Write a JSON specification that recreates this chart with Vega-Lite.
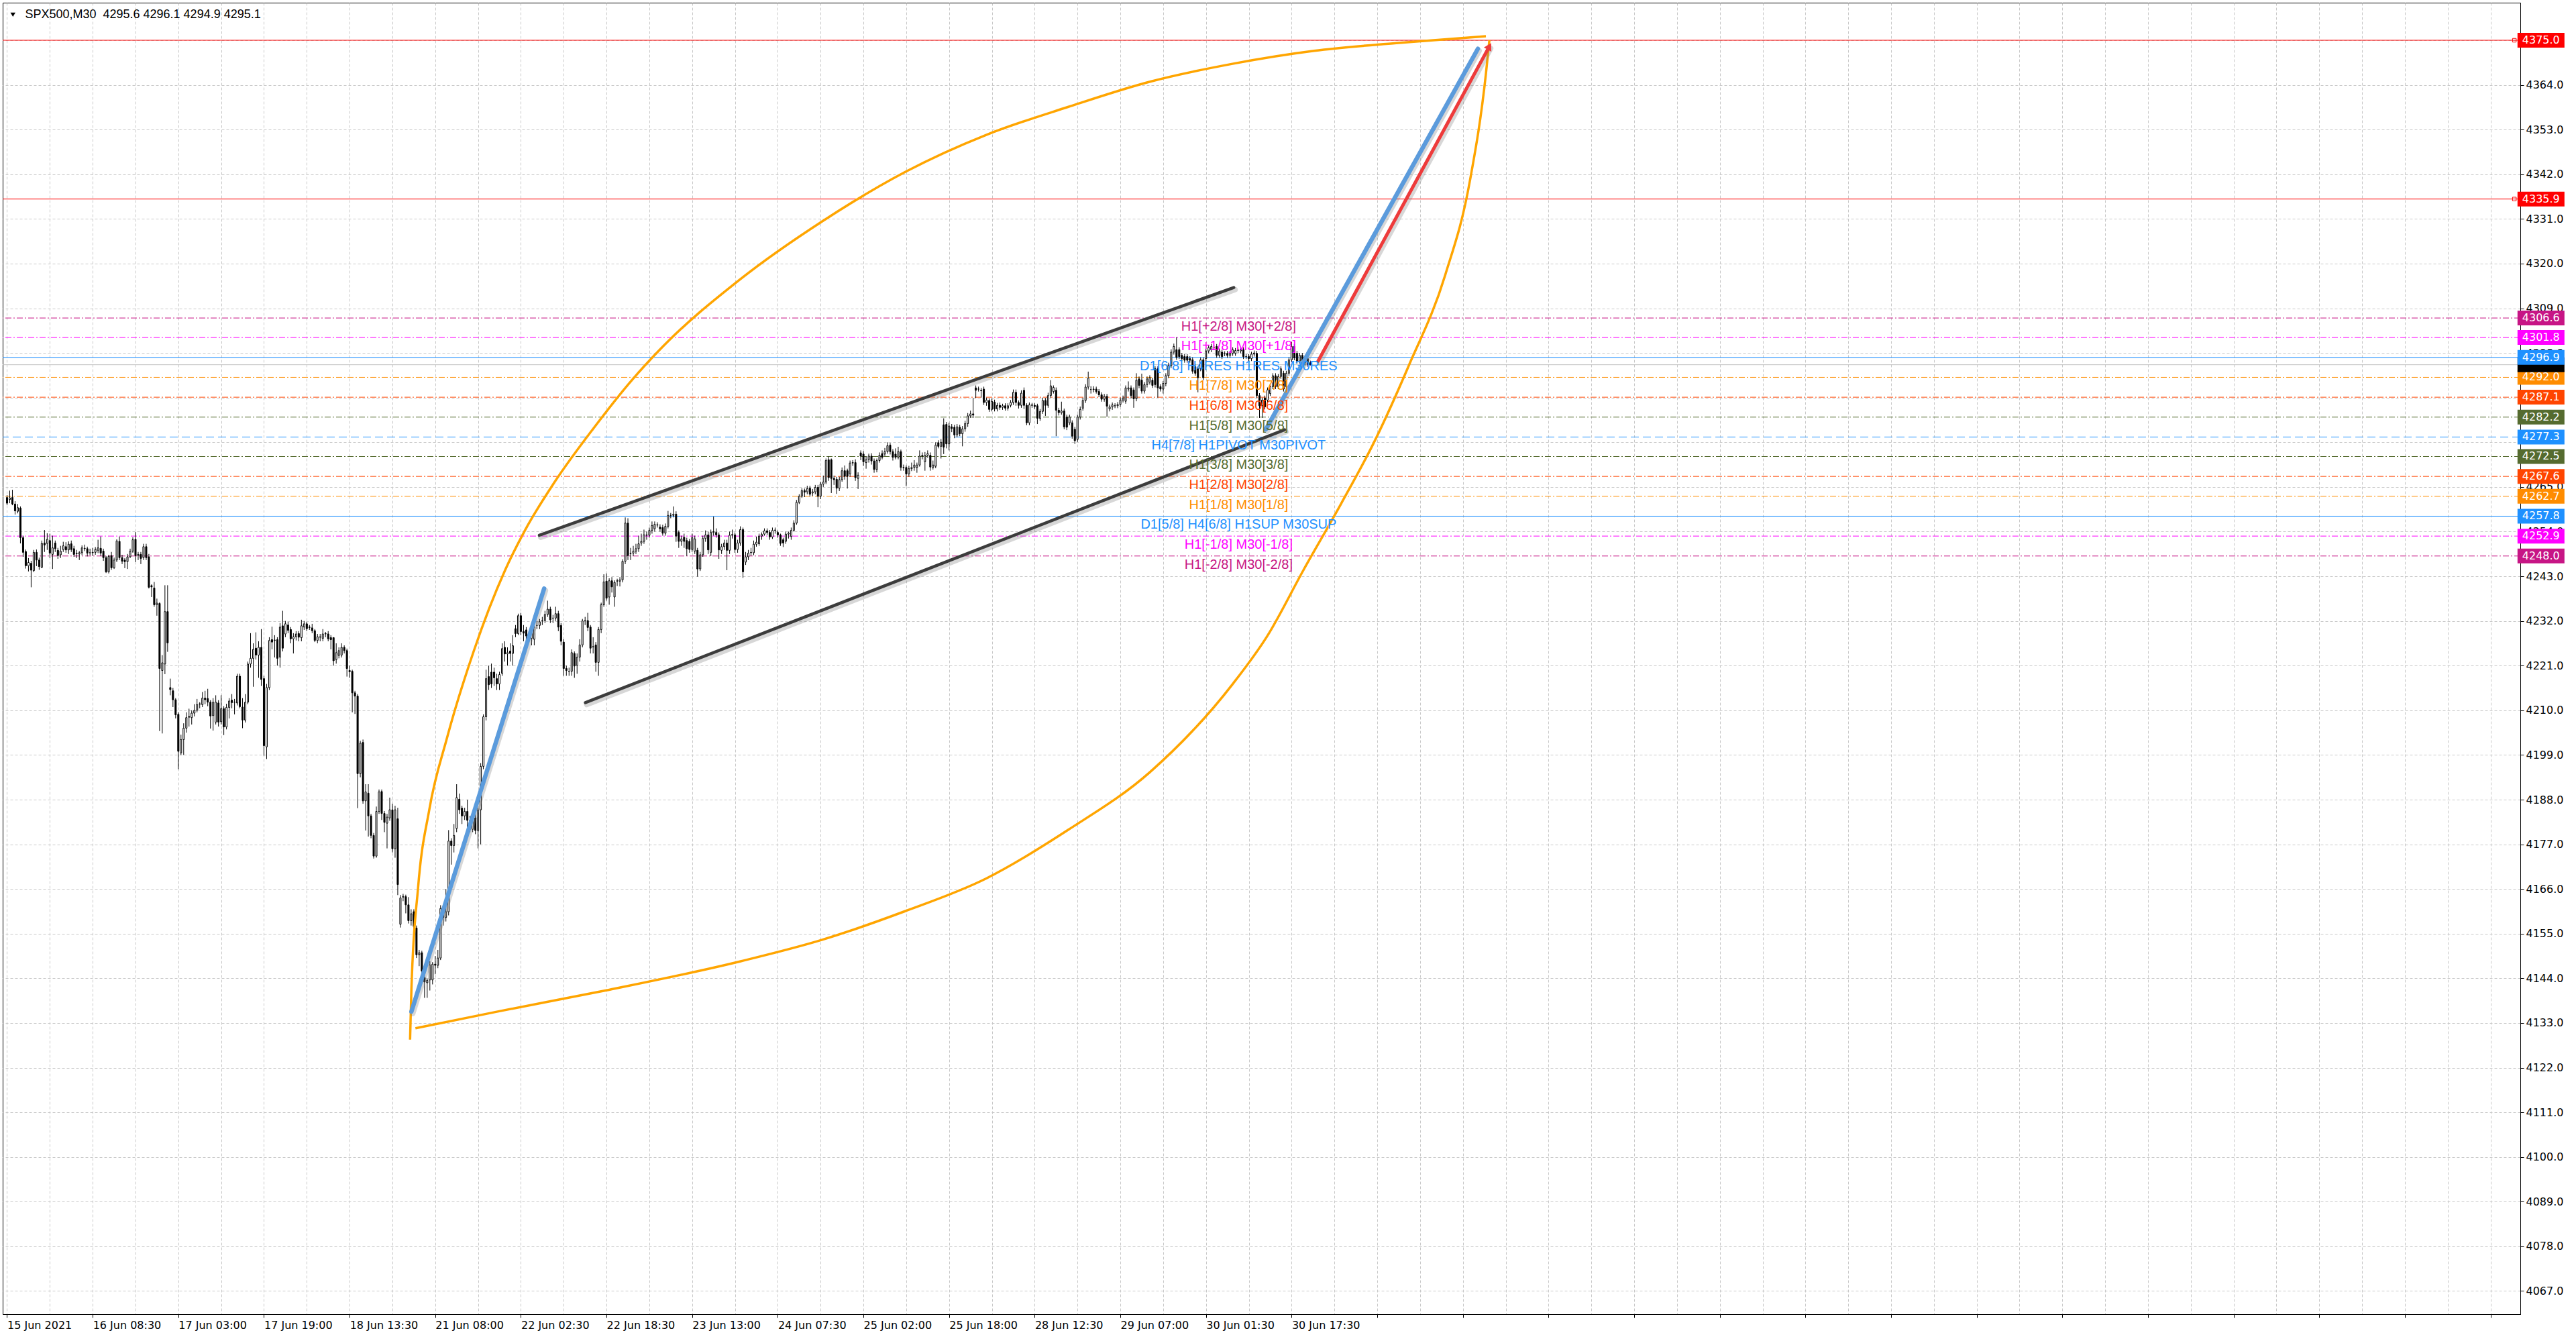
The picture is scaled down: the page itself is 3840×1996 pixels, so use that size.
{
"$schema":"https://vega.github.io/schema/vega-lite/v6.json",
"width":3753,"height":1955,
"autosize":{"type":"none"},
"padding":{"left":4,"top":4,"right":83,"bottom":37},
"background":"white",
"config":{"view":{"stroke":"black","strokeWidth":1},"axis":{"labelFont":"DejaVu Sans","labelFontSize":16,"labelColor":"#000000","domainColor":"#000000","gridColor":"#C8C8C8","gridDash":[4,3],"gridWidth":1}},
"resolve":{"axis":{"x":"independent","y":"independent"}},
"datasets":{
"cd":[
{"i":0,"o":4262.4,"h":4263,"l":4260.5,"c":4261},
{"i":1,"o":4261.9,"h":4264.1,"l":4261,"c":4262.3},
{"i":2,"o":4262.4,"h":4264.3,"l":4260.5,"c":4260.8},
{"i":3,"o":4260.8,"h":4261.5,"l":4258.2,"c":4259.1},
{"i":4,"o":4259,"h":4260.8,"l":4258.5,"c":4259.9},
{"i":5,"o":4259.8,"h":4260.2,"l":4251.1,"c":4252.5},
{"i":6,"o":4252.5,"h":4253,"l":4247.8,"c":4248.9},
{"i":7,"o":4249.1,"h":4249.6,"l":4244.9,"c":4245.6},
{"i":8,"o":4245.6,"h":4247.5,"l":4244.2,"c":4246.4},
{"i":9,"o":4246.2,"h":4246.8,"l":4240.3,"c":4244.5},
{"i":10,"o":4244.4,"h":4249.5,"l":4244,"c":4248.9},
{"i":11,"o":4248.9,"h":4249.6,"l":4245.5,"c":4247},
{"i":12,"o":4247,"h":4247.6,"l":4244.6,"c":4245.4},
{"i":13,"o":4245.2,"h":4251.8,"l":4245,"c":4251.1},
{"i":14,"o":4251.2,"h":4254.4,"l":4249,"c":4250.7},
{"i":15,"o":4251.1,"h":4253.6,"l":4249.5,"c":4252.1},
{"i":16,"o":4251.8,"h":4253.5,"l":4247.5,"c":4248.7},
{"i":17,"o":4248.4,"h":4253,"l":4244.8,"c":4250},
{"i":18,"o":4251.2,"h":4251.8,"l":4249,"c":4249.8},
{"i":19,"o":4249.4,"h":4250,"l":4247.3,"c":4248.1},
{"i":20,"o":4248.3,"h":4250.5,"l":4247.5,"c":4249.2},
{"i":21,"o":4249.6,"h":4251.5,"l":4249,"c":4250.5},
{"i":22,"o":4250.3,"h":4251.4,"l":4248.8,"c":4249.5},
{"i":23,"o":4249.5,"h":4251.6,"l":4248.5,"c":4250.9},
{"i":24,"o":4251,"h":4251.8,"l":4249,"c":4249.6},
{"i":25,"o":4249.8,"h":4250.5,"l":4247.8,"c":4248.4},
{"i":26,"o":4248.7,"h":4249.5,"l":4247.5,"c":4248.6},
{"i":27,"o":4248.5,"h":4249.2,"l":4247,"c":4248.8},
{"i":28,"o":4248.8,"h":4250.6,"l":4248.2,"c":4250},
{"i":29,"o":4249.9,"h":4250.8,"l":4249.2,"c":4249.8},
{"i":30,"o":4249.8,"h":4250.3,"l":4247.9,"c":4248.7},
{"i":31,"o":4248.8,"h":4249.8,"l":4248.2,"c":4248.8},
{"i":32,"o":4248.9,"h":4250,"l":4248,"c":4248.8},
{"i":33,"o":4248.9,"h":4250.2,"l":4248.3,"c":4249.6},
{"i":34,"o":4249.4,"h":4252,"l":4248.7,"c":4250},
{"i":35,"o":4249.9,"h":4252.8,"l":4248,"c":4248.7},
{"i":36,"o":4249.2,"h":4249.8,"l":4246.8,"c":4247.6},
{"i":37,"o":4247.6,"h":4248,"l":4243.8,"c":4244.1},
{"i":38,"o":4244.1,"h":4248.3,"l":4243.7,"c":4247.9},
{"i":39,"o":4248.1,"h":4249,"l":4244.6,"c":4245.1},
{"i":40,"o":4245.1,"h":4247.6,"l":4244.8,"c":4247},
{"i":41,"o":4247,"h":4252.1,"l":4246.5,"c":4251.7},
{"i":42,"o":4251.6,"h":4252.8,"l":4247,"c":4247.6},
{"i":43,"o":4247.6,"h":4248.3,"l":4246,"c":4246.7},
{"i":44,"o":4247,"h":4247.5,"l":4245,"c":4246.6},
{"i":45,"o":4246.6,"h":4248.5,"l":4244.8,"c":4247.8},
{"i":46,"o":4247.8,"h":4249.8,"l":4247.5,"c":4249.2},
{"i":47,"o":4249.2,"h":4252.6,"l":4248.8,"c":4252},
{"i":48,"o":4252.1,"h":4253.9,"l":4246.5,"c":4248.1},
{"i":49,"o":4248.1,"h":4249,"l":4247,"c":4248.4},
{"i":50,"o":4248.4,"h":4249,"l":4246,"c":4247.4},
{"i":51,"o":4247.6,"h":4251,"l":4247,"c":4250.3},
{"i":52,"o":4250.3,"h":4251,"l":4247,"c":4247.6},
{"i":53,"o":4247.8,"h":4248.5,"l":4240,"c":4240.3},
{"i":54,"o":4240.7,"h":4241,"l":4237.9,"c":4240.4},
{"i":55,"o":4240.1,"h":4241.6,"l":4235.5,"c":4236},
{"i":56,"o":4236,"h":4237.5,"l":4233.3,"c":4236.4},
{"i":57,"o":4236.3,"h":4236.6,"l":4204.9,"c":4220.3},
{"i":58,"o":4219.8,"h":4223.6,"l":4204.3,"c":4221.7},
{"i":59,"o":4221.4,"h":4240.8,"l":4218.9,"c":4234.3},
{"i":60,"o":4234.3,"h":4240.8,"l":4224.4,"c":4226.6},
{"i":61,"o":4215.6,"h":4217.8,"l":4213.7,"c":4215.1},
{"i":62,"o":4214.8,"h":4215.5,"l":4210.8,"c":4212.6},
{"i":63,"o":4212.6,"h":4213,"l":4208,"c":4208.9},
{"i":64,"o":4209,"h":4209.5,"l":4195.5,"c":4199.9},
{"i":65,"o":4199.5,"h":4204,"l":4199,"c":4202.8},
{"i":66,"o":4202.8,"h":4206.8,"l":4199,"c":4205.6},
{"i":67,"o":4205.6,"h":4209.5,"l":4204.5,"c":4208.2},
{"i":68,"o":4208.3,"h":4210.4,"l":4206,"c":4208.5},
{"i":69,"o":4208.2,"h":4210,"l":4206.5,"c":4209.3},
{"i":70,"o":4209.3,"h":4211.5,"l":4208.5,"c":4210},
{"i":71,"o":4210,"h":4212.8,"l":4209.5,"c":4211.4},
{"i":72,"o":4211.5,"h":4212,"l":4210.5,"c":4211.6},
{"i":73,"o":4211.4,"h":4214.5,"l":4210.8,"c":4213},
{"i":74,"o":4213,"h":4214.8,"l":4211.5,"c":4212.6},
{"i":75,"o":4212.9,"h":4215.3,"l":4211,"c":4212},
{"i":76,"o":4212,"h":4212.5,"l":4205.5,"c":4208.6},
{"i":77,"o":4208.7,"h":4213,"l":4205,"c":4212},
{"i":78,"o":4207.1,"h":4213.7,"l":4206.5,"c":4212},
{"i":79,"o":4211.8,"h":4212.5,"l":4206,"c":4207.1},
{"i":80,"o":4207.2,"h":4213.7,"l":4206.5,"c":4210.4},
{"i":81,"o":4210.4,"h":4211,"l":4203.9,"c":4205.9},
{"i":82,"o":4205.9,"h":4211.6,"l":4205.3,"c":4210.7},
{"i":83,"o":4210.7,"h":4213,"l":4208,"c":4212.3},
{"i":84,"o":4212.5,"h":4214,"l":4210.5,"c":4211.9},
{"i":85,"o":4212,"h":4212.8,"l":4209,"c":4212},
{"i":86,"o":4211.8,"h":4219,"l":4211.2,"c":4218.4},
{"i":87,"o":4218.4,"h":4219,"l":4210.5,"c":4210.9},
{"i":88,"o":4210.8,"h":4213,"l":4205.6,"c":4207.6},
{"i":89,"o":4207.6,"h":4214,"l":4207,"c":4212},
{"i":90,"o":4212,"h":4222,"l":4211.5,"c":4221.4},
{"i":91,"o":4221.4,"h":4229,"l":4220.5,"c":4222.8},
{"i":92,"o":4222.8,"h":4226.5,"l":4215.8,"c":4225},
{"i":93,"o":4225.3,"h":4229.2,"l":4222.5,"c":4223.6},
{"i":94,"o":4223.6,"h":4227,"l":4218,"c":4225.5},
{"i":95,"o":4225.5,"h":4230,"l":4216,"c":4217.6},
{"i":96,"o":4217.8,"h":4218.5,"l":4198.8,"c":4201.3},
{"i":97,"o":4201,"h":4216.5,"l":4198,"c":4215.6},
{"i":98,"o":4215.6,"h":4228,"l":4215,"c":4227.2},
{"i":99,"o":4227.4,"h":4230.6,"l":4225,"c":4226.8},
{"i":100,"o":4227.2,"h":4228.5,"l":4223,"c":4227.3},
{"i":101,"o":4227.4,"h":4228,"l":4221,"c":4222.8},
{"i":102,"o":4223.1,"h":4231.5,"l":4220.5,"c":4230.5},
{"i":103,"o":4230.8,"h":4234.5,"l":4224.5,"c":4225.3},
{"i":104,"o":4228.8,"h":4232,"l":4228,"c":4231.3},
{"i":105,"o":4231,"h":4231.8,"l":4229,"c":4229.7},
{"i":106,"o":4229.9,"h":4230.5,"l":4226.5,"c":4227.6},
{"i":107,"o":4227.6,"h":4229,"l":4224,"c":4228.1},
{"i":108,"o":4228.1,"h":4229.5,"l":4227.2,"c":4228.8},
{"i":109,"o":4228.9,"h":4229.5,"l":4227,"c":4228},
{"i":110,"o":4227.9,"h":4232.3,"l":4227,"c":4230.8},
{"i":111,"o":4230.5,"h":4232,"l":4229.8,"c":4231.3},
{"i":112,"o":4231.3,"h":4231.8,"l":4229.5,"c":4230.1},
{"i":113,"o":4230.5,"h":4231,"l":4229.8,"c":4230.4},
{"i":114,"o":4230.3,"h":4231.3,"l":4229,"c":4229.6},
{"i":115,"o":4229.6,"h":4230,"l":4226.8,"c":4227.2},
{"i":116,"o":4227.2,"h":4228.8,"l":4226.5,"c":4228.1},
{"i":117,"o":4228,"h":4228.8,"l":4227,"c":4228.1},
{"i":118,"o":4227.7,"h":4230,"l":4227,"c":4228.8},
{"i":119,"o":4228.8,"h":4229.3,"l":4228,"c":4228.9},
{"i":120,"o":4228.8,"h":4229.5,"l":4227,"c":4227.6},
{"i":121,"o":4227.9,"h":4228.5,"l":4225,"c":4227.4},
{"i":122,"o":4227.9,"h":4228,"l":4221,"c":4222.2},
{"i":123,"o":4222.5,"h":4226.5,"l":4221.5,"c":4224.2},
{"i":124,"o":4223.5,"h":4225.5,"l":4222.8,"c":4224.7},
{"i":125,"o":4223.6,"h":4226.5,"l":4223,"c":4225.5},
{"i":126,"o":4225.5,"h":4226,"l":4224,"c":4224.7},
{"i":127,"o":4224.7,"h":4225.2,"l":4218.3,"c":4220.3},
{"i":128,"o":4219.8,"h":4221,"l":4218,"c":4219.5},
{"i":129,"o":4219.6,"h":4220,"l":4209.5,"c":4214.3},
{"i":130,"o":4214.3,"h":4214.8,"l":4209.1,"c":4213.5},
{"i":131,"o":4213.5,"h":4214,"l":4185.9,"c":4194.4},
{"i":132,"o":4194.4,"h":4202.5,"l":4193.5,"c":4201.9},
{"i":133,"o":4202.1,"h":4202.8,"l":4187,"c":4187.7},
{"i":134,"o":4187.7,"h":4191.8,"l":4180.4,"c":4189.9},
{"i":135,"o":4189.6,"h":4191.8,"l":4178.9,"c":4184},
{"i":136,"o":4184,"h":4184.5,"l":4178.5,"c":4179.2},
{"i":137,"o":4179.2,"h":4179.8,"l":4173.5,"c":4174.1},
{"i":138,"o":4174.1,"h":4186.3,"l":4173.7,"c":4185.1},
{"i":139,"o":4185.1,"h":4190.5,"l":4184.5,"c":4189.9},
{"i":140,"o":4190,"h":4190.5,"l":4183,"c":4184.6},
{"i":141,"o":4184.6,"h":4185.2,"l":4180,"c":4182.4},
{"i":142,"o":4182.2,"h":4184.5,"l":4176,"c":4183.7},
{"i":143,"o":4183.5,"h":4188.5,"l":4182.8,"c":4185.5},
{"i":144,"o":4185.5,"h":4187,"l":4175,"c":4175.9},
{"i":145,"o":4175.9,"h":4186.5,"l":4173.7,"c":4185.5},
{"i":146,"o":4183.3,"h":4186,"l":4164.5,"c":4167.1},
{"i":147,"o":4157.3,"h":4164.5,"l":4156.5,"c":4163.8},
{"i":148,"o":4164,"h":4164.8,"l":4163,"c":4164.2},
{"i":149,"o":4164.1,"h":4164.6,"l":4160,"c":4162.1},
{"i":150,"o":4162.1,"h":4164,"l":4157.5,"c":4158.2},
{"i":151,"o":4158.2,"h":4161,"l":4157,"c":4159.9},
{"i":152,"o":4160.4,"h":4161,"l":4155,"c":4156.8},
{"i":153,"o":4156.4,"h":4157,"l":4149,"c":4149.8},
{"i":154,"o":4149.8,"h":4151,"l":4147,"c":4150.3},
{"i":155,"o":4150.3,"h":4150.8,"l":4144.5,"c":4145.8},
{"i":156,"o":4144.2,"h":4145,"l":4139.2,"c":4143.1},
{"i":157,"o":4142.9,"h":4144,"l":4139.2,"c":4143.5},
{"i":158,"o":4143.6,"h":4148.2,"l":4141,"c":4147.3},
{"i":159,"o":4143.6,"h":4148,"l":4142.5,"c":4147.5},
{"i":160,"o":4147.5,"h":4149.5,"l":4145,"c":4147.2},
{"i":161,"o":4147.2,"h":4151,"l":4146.5,"c":4149},
{"i":162,"o":4149,"h":4162,"l":4148.5,"c":4161.2},
{"i":163,"o":4160.4,"h":4161.5,"l":4157,"c":4159},
{"i":164,"o":4159,"h":4166,"l":4158,"c":4160.4},
{"i":165,"o":4160.4,"h":4180.5,"l":4159.5,"c":4177.8},
{"i":166,"o":4177.8,"h":4178.5,"l":4172,"c":4176.7},
{"i":167,"o":4176.7,"h":4182,"l":4175,"c":4179.2},
{"i":168,"o":4180.9,"h":4191.8,"l":4180,"c":4188.5},
{"i":169,"o":4188.1,"h":4189.5,"l":4184.5,"c":4185.5},
{"i":170,"o":4185.9,"h":4186.5,"l":4182,"c":4184},
{"i":171,"o":4184,"h":4186,"l":4183,"c":4185.1},
{"i":172,"o":4185.1,"h":4188,"l":4181,"c":4182.9},
{"i":173,"o":4182.9,"h":4184,"l":4180,"c":4180.7},
{"i":174,"o":4180.7,"h":4185,"l":4180,"c":4183.3},
{"i":175,"o":4183.5,"h":4186,"l":4179.5,"c":4180.4},
{"i":176,"o":4180.4,"h":4186,"l":4176,"c":4185.5},
{"i":177,"o":4185.5,"h":4197,"l":4177,"c":4196.2},
{"i":178,"o":4196.2,"h":4209,"l":4195.5,"c":4208.4},
{"i":179,"o":4208.4,"h":4220,"l":4207.5,"c":4217.8},
{"i":180,"o":4218.3,"h":4221,"l":4215,"c":4216.3},
{"i":181,"o":4219.4,"h":4221.5,"l":4215.5,"c":4216.5},
{"i":182,"o":4219.4,"h":4220.5,"l":4216,"c":4218},
{"i":183,"o":4217.8,"h":4219,"l":4215,"c":4216.5},
{"i":184,"o":4216.5,"h":4219.5,"l":4215,"c":4218.8},
{"i":185,"o":4219.1,"h":4226.5,"l":4218.5,"c":4225.2},
{"i":186,"o":4225.5,"h":4227,"l":4222,"c":4223.9},
{"i":187,"o":4223.9,"h":4225.5,"l":4221,"c":4224.2},
{"i":188,"o":4224.6,"h":4226.5,"l":4222,"c":4224},
{"i":189,"o":4224,"h":4228.5,"l":4221,"c":4225.9},
{"i":190,"o":4230.1,"h":4231,"l":4228,"c":4228.9},
{"i":191,"o":4228.9,"h":4233.8,"l":4228.5,"c":4233.3},
{"i":192,"o":4233.3,"h":4234,"l":4228.5,"c":4229.4},
{"i":193,"o":4229.4,"h":4231,"l":4227,"c":4229},
{"i":194,"o":4229.8,"h":4230.5,"l":4226,"c":4228.3},
{"i":195,"o":4228.7,"h":4229.5,"l":4226.5,"c":4227.9},
{"i":196,"o":4227.7,"h":4230,"l":4226,"c":4229.4},
{"i":197,"o":4227.5,"h":4231.5,"l":4226,"c":4230.5},
{"i":198,"o":4230.9,"h":4232,"l":4230,"c":4230.9},
{"i":199,"o":4230.9,"h":4232.5,"l":4230,"c":4231.8},
{"i":200,"o":4232.1,"h":4233,"l":4231,"c":4232.1},
{"i":201,"o":4232.1,"h":4234.5,"l":4231.5,"c":4233.6},
{"i":202,"o":4233.6,"h":4237,"l":4233,"c":4234.9},
{"i":203,"o":4234.9,"h":4235.5,"l":4231.5,"c":4232.3},
{"i":204,"o":4232.7,"h":4233.5,"l":4231.5,"c":4232.7},
{"i":205,"o":4232.7,"h":4235.5,"l":4232,"c":4233.8},
{"i":206,"o":4233.8,"h":4234.5,"l":4229.5,"c":4230.5},
{"i":207,"o":4230.9,"h":4231.5,"l":4226,"c":4227},
{"i":208,"o":4226.8,"h":4227.5,"l":4218.5,"c":4220.3},
{"i":209,"o":4220.3,"h":4221,"l":4218.5,"c":4219.8},
{"i":210,"o":4219.6,"h":4220.5,"l":4218.5,"c":4219.6},
{"i":211,"o":4219.6,"h":4225,"l":4218.5,"c":4224.2},
{"i":212,"o":4224,"h":4224.5,"l":4218,"c":4220.9},
{"i":213,"o":4221.1,"h":4224,"l":4219,"c":4223.1},
{"i":214,"o":4223.1,"h":4227.5,"l":4222,"c":4226.1},
{"i":215,"o":4226.1,"h":4232.5,"l":4225.5,"c":4232},
{"i":216,"o":4232.1,"h":4233,"l":4231,"c":4232.1},
{"i":217,"o":4232.1,"h":4234,"l":4229.5,"c":4230.4},
{"i":218,"o":4230.5,"h":4231,"l":4224,"c":4225.3},
{"i":219,"o":4225.6,"h":4228,"l":4224,"c":4225.7},
{"i":220,"o":4226.1,"h":4226.8,"l":4219.5,"c":4221.8},
{"i":221,"o":4221.8,"h":4230.5,"l":4218.5,"c":4229.9},
{"i":222,"o":4229.9,"h":4236.5,"l":4229,"c":4236},
{"i":223,"o":4236,"h":4243.5,"l":4235.5,"c":4241.6},
{"i":224,"o":4241.8,"h":4243.7,"l":4237,"c":4237.6},
{"i":225,"o":4237.9,"h":4242.5,"l":4236,"c":4241.9},
{"i":226,"o":4241.9,"h":4242.8,"l":4239,"c":4240.4},
{"i":227,"o":4237.9,"h":4242,"l":4235.5,"c":4241.5},
{"i":228,"o":4241.8,"h":4242.4,"l":4240.6,"c":4241.9},
{"i":229,"o":4241.8,"h":4242.8,"l":4240.5,"c":4242.1},
{"i":230,"o":4242.1,"h":4247.2,"l":4241.5,"c":4246.7},
{"i":231,"o":4246.7,"h":4257.5,"l":4246,"c":4256.1},
{"i":232,"o":4256.1,"h":4257.3,"l":4247,"c":4248.1},
{"i":233,"o":4248.6,"h":4250,"l":4247,"c":4248.7},
{"i":234,"o":4248.7,"h":4250.5,"l":4248,"c":4249.2},
{"i":235,"o":4249.2,"h":4251,"l":4248.5,"c":4249.8},
{"i":236,"o":4249.8,"h":4253,"l":4249,"c":4251},
{"i":237,"o":4251.2,"h":4253.5,"l":4250.5,"c":4251.6},
{"i":238,"o":4251.6,"h":4254.5,"l":4251,"c":4253.2},
{"i":239,"o":4253.2,"h":4254,"l":4252,"c":4253.1},
{"i":240,"o":4253.1,"h":4255,"l":4252.5,"c":4254.3},
{"i":241,"o":4254.3,"h":4256.5,"l":4253.5,"c":4255.5},
{"i":242,"o":4254.7,"h":4256.5,"l":4254,"c":4255.8},
{"i":243,"o":4255.6,"h":4256.3,"l":4255,"c":4255.7},
{"i":244,"o":4255.1,"h":4255.8,"l":4254,"c":4254.7},
{"i":245,"o":4255,"h":4255.7,"l":4253,"c":4253.6},
{"i":246,"o":4253.6,"h":4256,"l":4253,"c":4255.3},
{"i":247,"o":4255.3,"h":4259.1,"l":4254.8,"c":4258},
{"i":248,"o":4258,"h":4258.6,"l":4257.3,"c":4258},
{"i":249,"o":4258,"h":4260.2,"l":4257.5,"c":4258.3},
{"i":250,"o":4258.3,"h":4259,"l":4251.5,"c":4252.9},
{"i":251,"o":4253.8,"h":4254.3,"l":4250,"c":4251.6},
{"i":252,"o":4251.6,"h":4253,"l":4250.5,"c":4252.2},
{"i":253,"o":4252.6,"h":4253.5,"l":4250,"c":4251.6},
{"i":254,"o":4251.8,"h":4252.5,"l":4248,"c":4249.8},
{"i":255,"o":4251.6,"h":4252.2,"l":4248.8,"c":4249.6},
{"i":256,"o":4249.6,"h":4253.5,"l":4249,"c":4252.5},
{"i":257,"o":4249.2,"h":4253,"l":4248.5,"c":4252.2},
{"i":258,"o":4249.4,"h":4250,"l":4242.9,"c":4244.8},
{"i":259,"o":4244.8,"h":4249,"l":4244.3,"c":4248.3},
{"i":260,"o":4248.3,"h":4253,"l":4247.8,"c":4252.3},
{"i":261,"o":4252.3,"h":4254.3,"l":4251.5,"c":4253.2},
{"i":262,"o":4253.2,"h":4254,"l":4248.5,"c":4249.5},
{"i":263,"o":4248.9,"h":4254.5,"l":4248,"c":4253.8},
{"i":264,"o":4253.8,"h":4257.7,"l":4253,"c":4254},
{"i":265,"o":4253.8,"h":4254.8,"l":4252.5,"c":4253.2},
{"i":266,"o":4253.2,"h":4253.8,"l":4247.3,"c":4249.5},
{"i":267,"o":4249.4,"h":4251,"l":4248.5,"c":4250.3},
{"i":268,"o":4250.3,"h":4252,"l":4249.5,"c":4251.2},
{"i":269,"o":4251.2,"h":4252,"l":4244.5,"c":4249.4},
{"i":270,"o":4249.4,"h":4254,"l":4248.5,"c":4253.1},
{"i":271,"o":4253.1,"h":4254.5,"l":4252.3,"c":4253.3},
{"i":272,"o":4253.2,"h":4253.8,"l":4248.8,"c":4249.6},
{"i":273,"o":4249.6,"h":4252,"l":4248.8,"c":4251.2},
{"i":274,"o":4251.2,"h":4255.3,"l":4250.5,"c":4254.5},
{"i":275,"o":4254.5,"h":4255,"l":4242.6,"c":4244.1},
{"i":276,"o":4246.5,"h":4249,"l":4245.8,"c":4247.8},
{"i":277,"o":4247.8,"h":4249.5,"l":4247,"c":4248.7},
{"i":278,"o":4248.8,"h":4250,"l":4248,"c":4248.9},
{"i":279,"o":4248.8,"h":4251.8,"l":4248.2,"c":4250.9},
{"i":280,"o":4250.9,"h":4252.8,"l":4250.3,"c":4251.4},
{"i":281,"o":4251,"h":4253.5,"l":4250.5,"c":4252.9},
{"i":282,"o":4252.9,"h":4253.8,"l":4252,"c":4253.3},
{"i":283,"o":4253.4,"h":4254.8,"l":4253,"c":4254.2},
{"i":284,"o":4254.2,"h":4254.8,"l":4253.2,"c":4253.8},
{"i":285,"o":4253.8,"h":4254.4,"l":4252,"c":4252.7},
{"i":286,"o":4252.7,"h":4255,"l":4252.2,"c":4254.3},
{"i":287,"o":4254.3,"h":4255,"l":4253.5,"c":4254.4},
{"i":288,"o":4253.8,"h":4254.3,"l":4252.5,"c":4253.2},
{"i":289,"o":4253.2,"h":4253.5,"l":4250.5,"c":4251.1},
{"i":290,"o":4252,"h":4252.5,"l":4250.2,"c":4251.2},
{"i":291,"o":4251.6,"h":4254,"l":4251,"c":4253.4},
{"i":292,"o":4253.4,"h":4254,"l":4252.3,"c":4253.6},
{"i":293,"o":4252.8,"h":4255,"l":4252,"c":4254.3},
{"i":294,"o":4254.3,"h":4256.8,"l":4254,"c":4256.1},
{"i":295,"o":4256.1,"h":4261.8,"l":4255.7,"c":4261.2},
{"i":296,"o":4261.2,"h":4263.2,"l":4260.8,"c":4262.7},
{"i":297,"o":4262.7,"h":4264.7,"l":4262.3,"c":4264.1},
{"i":298,"o":4264.1,"h":4264.6,"l":4262.5,"c":4263.7},
{"i":299,"o":4263.8,"h":4265.3,"l":4263.2,"c":4264.6},
{"i":300,"o":4264.7,"h":4265.3,"l":4262.6,"c":4263.2},
{"i":301,"o":4263.5,"h":4264.5,"l":4262.8,"c":4263.8},
{"i":302,"o":4263.8,"h":4265.5,"l":4263.2,"c":4264.9},
{"i":303,"o":4264.9,"h":4265.5,"l":4260,"c":4262.7},
{"i":304,"o":4262.7,"h":4266.3,"l":4262,"c":4265.7},
{"i":305,"o":4265.7,"h":4267.8,"l":4265,"c":4266.2},
{"i":306,"o":4266.2,"h":4272,"l":4265.7,"c":4271.5},
{"i":307,"o":4271.7,"h":4272.5,"l":4266.5,"c":4267.3},
{"i":308,"o":4271.7,"h":4272,"l":4263.5,"c":4267.1},
{"i":309,"o":4267.1,"h":4267.8,"l":4265.5,"c":4266.8},
{"i":310,"o":4266.9,"h":4267.5,"l":4263.3,"c":4264.7},
{"i":311,"o":4264.7,"h":4267.5,"l":4264,"c":4266.8},
{"i":312,"o":4266.8,"h":4269.8,"l":4266.3,"c":4269},
{"i":313,"o":4269,"h":4270.3,"l":4266.8,"c":4267.6},
{"i":314,"o":4269,"h":4269.5,"l":4264.6,"c":4267.6},
{"i":315,"o":4268.2,"h":4271.5,"l":4267.5,"c":4270.9},
{"i":316,"o":4270.9,"h":4271.6,"l":4270.2,"c":4271},
{"i":317,"o":4271,"h":4271.8,"l":4266.5,"c":4267.3},
{"i":318,"o":4267.1,"h":4268.6,"l":4264.5,"c":4267.9},
{"i":319,"o":4273.4,"h":4274,"l":4271.6,"c":4272.6},
{"i":320,"o":4273.1,"h":4273.8,"l":4270.2,"c":4271.2},
{"i":321,"o":4271,"h":4272.5,"l":4269.5,"c":4271.7},
{"i":322,"o":4271.7,"h":4273.2,"l":4271,"c":4272.6},
{"i":323,"o":4272.6,"h":4273.3,"l":4270.5,"c":4271.4},
{"i":324,"o":4271.4,"h":4272,"l":4268.5,"c":4269.3},
{"i":325,"o":4269.3,"h":4272,"l":4268.6,"c":4271.5},
{"i":326,"o":4271.5,"h":4273.5,"l":4271,"c":4272.8},
{"i":327,"o":4273.2,"h":4274,"l":4271.8,"c":4272.3},
{"i":328,"o":4273.1,"h":4274.6,"l":4272.6,"c":4273.7},
{"i":329,"o":4273.7,"h":4276,"l":4273.2,"c":4275.2},
{"i":330,"o":4275.3,"h":4275.8,"l":4273,"c":4273.7},
{"i":331,"o":4273.7,"h":4274.3,"l":4271.5,"c":4272.3},
{"i":332,"o":4273.1,"h":4274.5,"l":4271.8,"c":4272.3},
{"i":333,"o":4272.3,"h":4274.9,"l":4271.8,"c":4273.7},
{"i":334,"o":4273.7,"h":4274.2,"l":4269,"c":4269.8},
{"i":335,"o":4269.8,"h":4270.5,"l":4269,"c":4269.7},
{"i":336,"o":4269.8,"h":4270.3,"l":4265.2,"c":4268.2},
{"i":337,"o":4268.2,"h":4270.2,"l":4267.5,"c":4269.5},
{"i":338,"o":4269.5,"h":4271,"l":4268.9,"c":4269.8},
{"i":339,"o":4269.8,"h":4271.6,"l":4269,"c":4270.4},
{"i":340,"o":4269.8,"h":4271,"l":4268.5,"c":4270.4},
{"i":341,"o":4270.4,"h":4274,"l":4270,"c":4272.6},
{"i":342,"o":4272.6,"h":4273.5,"l":4271.8,"c":4272.8},
{"i":343,"o":4271.2,"h":4273.6,"l":4269,"c":4272.8},
{"i":344,"o":4272.8,"h":4274,"l":4272.2,"c":4273.2},
{"i":345,"o":4272.8,"h":4273.5,"l":4269,"c":4269.9},
{"i":346,"o":4269.8,"h":4271.5,"l":4269.3,"c":4270.4},
{"i":347,"o":4270.1,"h":4276,"l":4269.6,"c":4275.3},
{"i":348,"o":4275.9,"h":4276.5,"l":4274.5,"c":4275},
{"i":349,"o":4275,"h":4276.8,"l":4272,"c":4276},
{"i":350,"o":4280.3,"h":4281.9,"l":4273.1,"c":4274.8},
{"i":351,"o":4280.4,"h":4281,"l":4274.5,"c":4275.6},
{"i":352,"o":4275.6,"h":4280.8,"l":4274,"c":4280},
{"i":353,"o":4279.8,"h":4280.5,"l":4278.5,"c":4279.4},
{"i":354,"o":4279.7,"h":4280.3,"l":4277,"c":4277.8},
{"i":355,"o":4277.8,"h":4280.5,"l":4277.2,"c":4279.8},
{"i":356,"o":4279.7,"h":4280.3,"l":4277.5,"c":4278.1},
{"i":357,"o":4278.1,"h":4280,"l":4275,"c":4279.3},
{"i":358,"o":4279.3,"h":4281.3,"l":4278.6,"c":4280.6},
{"i":359,"o":4280.6,"h":4283.2,"l":4279.8,"c":4282.5},
{"i":360,"o":4282.5,"h":4283.8,"l":4282,"c":4283},
{"i":361,"o":4283,"h":4286.9,"l":4282,"c":4282.7},
{"i":362,"o":4289.4,"h":4290,"l":4286.9,"c":4288.8},
{"i":363,"o":4289.1,"h":4289.7,"l":4288.5,"c":4289.1},
{"i":364,"o":4288.8,"h":4289.4,"l":4287,"c":4288.7},
{"i":365,"o":4289.1,"h":4289.7,"l":4285.2,"c":4285.8},
{"i":366,"o":4285.8,"h":4287,"l":4285,"c":4286.4},
{"i":367,"o":4286.3,"h":4286.8,"l":4283.5,"c":4284.1},
{"i":368,"o":4284.1,"h":4286.8,"l":4283.6,"c":4286.1},
{"i":369,"o":4285.9,"h":4286.5,"l":4283.6,"c":4284.2},
{"i":370,"o":4284.2,"h":4285.7,"l":4283.6,"c":4285.1},
{"i":371,"o":4285.1,"h":4285.8,"l":4284,"c":4284.6},
{"i":372,"o":4284.6,"h":4285.5,"l":4284,"c":4285},
{"i":373,"o":4285,"h":4285.6,"l":4283.8,"c":4284.4},
{"i":374,"o":4284.4,"h":4285.6,"l":4283.8,"c":4285},
{"i":375,"o":4285.1,"h":4286.4,"l":4284.6,"c":4285.8},
{"i":376,"o":4285.8,"h":4289,"l":4285.2,"c":4288.3},
{"i":377,"o":4288.3,"h":4289,"l":4285,"c":4285.8},
{"i":378,"o":4285.8,"h":4286.3,"l":4284.3,"c":4285.1},
{"i":379,"o":4285.1,"h":4288.8,"l":4284.5,"c":4288.1},
{"i":380,"o":4288.8,"h":4289.5,"l":4284.2,"c":4285.1},
{"i":381,"o":4285.1,"h":4285.6,"l":4280.2,"c":4280.8},
{"i":382,"o":4280.8,"h":4285.8,"l":4280.2,"c":4285.2},
{"i":383,"o":4285.2,"h":4285.7,"l":4284.5,"c":4285.1},
{"i":384,"o":4285.1,"h":4285.6,"l":4284.2,"c":4284.8},
{"i":385,"o":4285,"h":4285.5,"l":4280.5,"c":4281.9},
{"i":386,"o":4281.9,"h":4284.2,"l":4281.3,"c":4283.6},
{"i":387,"o":4283.6,"h":4287,"l":4283,"c":4286.3},
{"i":388,"o":4286.3,"h":4286.9,"l":4282.5,"c":4285.1},
{"i":389,"o":4285.1,"h":4288.2,"l":4284.5,"c":4287.5},
{"i":390,"o":4287.5,"h":4291.3,"l":4286.9,"c":4289.9},
{"i":391,"o":4288.5,"h":4290,"l":4288,"c":4289.5},
{"i":392,"o":4288.8,"h":4289.5,"l":4277.5,"c":4283.9},
{"i":393,"o":4283.9,"h":4284.5,"l":4282.6,"c":4283.3},
{"i":394,"o":4283.3,"h":4286,"l":4282.8,"c":4283.7},
{"i":395,"o":4283.7,"h":4284.3,"l":4279.2,"c":4279.8},
{"i":396,"o":4282.2,"h":4282.8,"l":4279,"c":4279.7},
{"i":397,"o":4280.8,"h":4282.8,"l":4280.2,"c":4282.2},
{"i":398,"o":4280.8,"h":4281.4,"l":4276.9,"c":4277.5},
{"i":399,"o":4279.2,"h":4279.8,"l":4275.6,"c":4276.4},
{"i":400,"o":4276.7,"h":4282.8,"l":4276.1,"c":4282.2},
{"i":401,"o":4282.2,"h":4284.8,"l":4281.6,"c":4284.1},
{"i":402,"o":4284.4,"h":4287,"l":4283.8,"c":4286.3},
{"i":403,"o":4286.3,"h":4290.3,"l":4285.7,"c":4289.6},
{"i":404,"o":4289.6,"h":4293.4,"l":4289,"c":4291.8},
{"i":405,"o":4289,"h":4289.8,"l":4288,"c":4289},
{"i":406,"o":4289.1,"h":4289.8,"l":4288.3,"c":4289},
{"i":407,"o":4289.1,"h":4289.7,"l":4288,"c":4288.5},
{"i":408,"o":4288.5,"h":4289.1,"l":4287.1,"c":4287.7},
{"i":409,"o":4287.7,"h":4288.3,"l":4286,"c":4286.6},
{"i":410,"o":4286.6,"h":4287.9,"l":4286,"c":4287.3},
{"i":411,"o":4287.3,"h":4287.9,"l":4282.3,"c":4284.9},
{"i":412,"o":4284.2,"h":4285.3,"l":4283.6,"c":4284.7},
{"i":413,"o":4284.7,"h":4285.8,"l":4284,"c":4285.2},
{"i":414,"o":4285,"h":4285.6,"l":4284.4,"c":4285},
{"i":415,"o":4285,"h":4285.9,"l":4284.4,"c":4285.3},
{"i":416,"o":4285.3,"h":4287,"l":4284.7,"c":4286.4},
{"i":417,"o":4286.4,"h":4287.5,"l":4285.8,"c":4286.9},
{"i":418,"o":4286.1,"h":4290,"l":4285.5,"c":4289.4},
{"i":419,"o":4289.1,"h":4291,"l":4288.5,"c":4289.4},
{"i":420,"o":4289.4,"h":4290,"l":4286.8,"c":4287.5},
{"i":421,"o":4288.9,"h":4289.5,"l":4284.5,"c":4286.7},
{"i":422,"o":4286.7,"h":4293,"l":4286.1,"c":4291.3},
{"i":423,"o":4291.6,"h":4292.2,"l":4289.3,"c":4290},
{"i":424,"o":4291.3,"h":4292.9,"l":4288,"c":4288.6},
{"i":425,"o":4288.6,"h":4290.8,"l":4288,"c":4290.2},
{"i":426,"o":4290.2,"h":4292.2,"l":4289.5,"c":4291.6},
{"i":427,"o":4290.8,"h":4292.5,"l":4290.2,"c":4291.9},
{"i":428,"o":4291.3,"h":4291.9,"l":4289.4,"c":4290},
{"i":429,"o":4294.1,"h":4294.7,"l":4289.5,"c":4290.2},
{"i":430,"o":4294.1,"h":4294.7,"l":4287,"c":4289.4},
{"i":431,"o":4289.7,"h":4290.3,"l":4288.5,"c":4289.1},
{"i":432,"o":4289.1,"h":4291.1,"l":4288,"c":4290.5},
{"i":433,"o":4290.5,"h":4293,"l":4289.8,"c":4292.4},
{"i":434,"o":4292.4,"h":4295.6,"l":4291.8,"c":4294.9},
{"i":435,"o":4294.9,"h":4298.9,"l":4294.3,"c":4298.2},
{"i":436,"o":4298.2,"h":4300.3,"l":4297.6,"c":4299.6},
{"i":437,"o":4298.8,"h":4301.9,"l":4296.3,"c":4296.9},
{"i":438,"o":4298.8,"h":4299.4,"l":4296.5,"c":4297.1},
{"i":439,"o":4297.4,"h":4298,"l":4296,"c":4296.6},
{"i":440,"o":4297.1,"h":4297.7,"l":4295.6,"c":4296.2},
{"i":441,"o":4297.1,"h":4297.7,"l":4295.6,"c":4296.2},
{"i":442,"o":4296.6,"h":4297.2,"l":4295.6,"c":4296.2},
{"i":443,"o":4296.3,"h":4296.9,"l":4292.9,"c":4293.5},
{"i":444,"o":4294.6,"h":4295.2,"l":4292.4,"c":4293},
{"i":445,"o":4294.1,"h":4294.7,"l":4288.3,"c":4291.9},
{"i":446,"o":4294.1,"h":4296.9,"l":4293.5,"c":4296.3},
{"i":447,"o":4296.3,"h":4296.9,"l":4291.3,"c":4291.9},
{"i":448,"o":4296.6,"h":4299.1,"l":4296,"c":4298.5},
{"i":449,"o":4298.5,"h":4299.9,"l":4297.9,"c":4299.3},
{"i":450,"o":4298.8,"h":4300.2,"l":4298.2,"c":4299.6},
{"i":451,"o":4299.3,"h":4299.9,"l":4298.7,"c":4299.3},
{"i":452,"o":4299.6,"h":4300.2,"l":4296.8,"c":4297.4},
{"i":453,"o":4297.4,"h":4299.1,"l":4296.8,"c":4298.5},
{"i":454,"o":4298.2,"h":4298.8,"l":4296.5,"c":4297.1},
{"i":455,"o":4297.8,"h":4298.4,"l":4297.2,"c":4297.8},
{"i":456,"o":4297.9,"h":4298.5,"l":4296.8,"c":4297.4},
{"i":457,"o":4297.4,"h":4298.5,"l":4296.8,"c":4297.9},
{"i":458,"o":4297.9,"h":4299.4,"l":4297.3,"c":4298.8},
{"i":459,"o":4297.9,"h":4299.2,"l":4297.3,"c":4298.6},
{"i":460,"o":4298.6,"h":4299.4,"l":4298,"c":4298.8},
{"i":461,"o":4298.5,"h":4299.4,"l":4297.9,"c":4298.8},
{"i":462,"o":4298.8,"h":4299.4,"l":4296.5,"c":4297.1},
{"i":463,"o":4297.1,"h":4297.7,"l":4296.5,"c":4297.1},
{"i":464,"o":4297.1,"h":4297.7,"l":4296,"c":4296.6},
{"i":465,"o":4296.6,"h":4298.3,"l":4296,"c":4297.7},
{"i":466,"o":4297.7,"h":4298.6,"l":4297.1,"c":4298},
{"i":467,"o":4297.9,"h":4298.5,"l":4286.9,"c":4287.5},
{"i":468,"o":4287.5,"h":4288.1,"l":4282,"c":4285},
{"i":469,"o":4285,"h":4287,"l":4282,"c":4286.4},
{"i":470,"o":4286.9,"h":4287.5,"l":4284.1,"c":4284.7},
{"i":471,"o":4286.4,"h":4289.5,"l":4285.8,"c":4288.9},
{"i":472,"o":4288,"h":4290.3,"l":4287.4,"c":4289.7},
{"i":473,"o":4289.7,"h":4293,"l":4289.1,"c":4292.4},
{"i":474,"o":4292.4,"h":4293,"l":4289.1,"c":4289.7},
{"i":475,"o":4289.7,"h":4292.8,"l":4289.1,"c":4292.2},
{"i":476,"o":4292.2,"h":4294.7,"l":4291.6,"c":4294.1},
{"i":477,"o":4293,"h":4293.6,"l":4288.5,"c":4289.1},
{"i":478,"o":4289.7,"h":4293.6,"l":4289.1,"c":4293},
{"i":479,"o":4293,"h":4296.9,"l":4292.4,"c":4296.3},
{"i":480,"o":4296.3,"h":4300.7,"l":4295.7,"c":4299.6},
{"i":481,"o":4299.6,"h":4300.2,"l":4296.2,"c":4296.8},
{"i":482,"o":4297.9,"h":4298.5,"l":4295.4,"c":4296},
{"i":483,"o":4296,"h":4298,"l":4295.4,"c":4297.4},
{"i":484,"o":4297.4,"h":4298,"l":4294.9,"c":4295.5},
{"i":485,"o":4295.5,"h":4297.4,"l":4294.9,"c":4296.8},
{"i":486,"o":4296.6,"h":4297.2,"l":4294.6,"c":4295.2},
{"i":487,"o":4295.6,"h":4296.1,"l":4294.9,"c":4295.1}
],
"lv":[
{"k":"r1","p":4375.0},
{"k":"r2","p":4335.9},
{"k":"bid","p":4295.1},
{"k":"p2","p":4306.6,"lab":"H1[+2/8] M30[+2/8]"},
{"k":"p1","p":4301.8,"lab":"H1[+1/8] M30[+1/8]"},
{"k":"res","p":4296.9,"lab":"D1[6/8] H4RES H1RES M30RES"},
{"k":"l7","p":4292.0,"lab":"H1[7/8] M30[7/8]"},
{"k":"l6","p":4287.1,"lab":"H1[6/8] M30[6/8]"},
{"k":"l5","p":4282.2,"lab":"H1[5/8] M30[5/8]"},
{"k":"piv","p":4277.3,"lab":"H4[7/8] H1PIVOT M30PIVOT"},
{"k":"l3","p":4272.5,"lab":"H1[3/8] M30[3/8]"},
{"k":"l2","p":4267.6,"lab":"H1[2/8] M30[2/8]"},
{"k":"l1","p":4262.7,"lab":"H1[1/8] M30[1/8]"},
{"k":"sup","p":4257.8,"lab":"D1[5/8] H4[6/8] H1SUP M30SUP"},
{"k":"m1","p":4252.9,"lab":"H1[-1/8] M30[-1/8]"},
{"k":"m2","p":4248.0,"lab":"H1[-2/8] M30[-2/8]"}
],
"sh":[
{"g":"aU","i":150.6,"p":4128.9},{"g":"aU","i":151.1,"p":4141.3},{"g":"aU","i":153.6,"p":4166.4},{"g":"aU","i":157.8,"p":4185.6},{"g":"aU","i":164.4,"p":4203.2},{"g":"aU","i":174.4,"p":4224.6},{"g":"aU","i":186.1,"p":4244.5},{"g":"aU","i":193.6,"p":4254.4},{"g":"aU","i":204.4,"p":4266.0},{"g":"aU","i":219.1,"p":4279.4},{"g":"aU","i":233.6,"p":4291.4},{"g":"aU","i":243.6,"p":4298.6},{"g":"aU","i":274.1,"p":4316.2},{"g":"aU","i":304.6,"p":4330.4},{"g":"aU","i":335.4,"p":4342.5},{"g":"aU","i":365.9,"p":4351.7},{"g":"aU","i":396.6,"p":4358.6},{"g":"aU","i":427.1,"p":4364.8},{"g":"aU","i":457.9,"p":4369.2},{"g":"aU","i":488.4,"p":4372.4},{"g":"aU","i":519.1,"p":4374.3},{"g":"aU","i":552.6,"p":4376.0},
{"g":"aL","i":152.6,"p":4131.7},{"g":"aL","i":182.4,"p":4135.7},{"g":"aL","i":223.6,"p":4141.0},{"g":"aL","i":274.1,"p":4148.2},{"g":"aL","i":304.6,"p":4153.5},{"g":"aL","i":335.4,"p":4160.5},{"g":"aL","i":365.9,"p":4168.6},{"g":"aL","i":396.6,"p":4180.6},{"g":"aL","i":427.1,"p":4194.8},{"g":"aL","i":457.9,"p":4216.4},{"g":"aL","i":471.1,"p":4228.5},{"g":"aL","i":484.4,"p":4244.5},{"g":"aL","i":498.6,"p":4261.0},{"g":"aL","i":511.1,"p":4276.4},{"g":"aL","i":523.6,"p":4294.6},{"g":"aL","i":537.4,"p":4317.2},{"g":"aL","i":546.6,"p":4340.3},{"g":"aL","i":552.6,"p":4366.7},{"g":"aL","i":553.9,"p":4375.0},
{"g":"cU","i":198.9,"p":4253.1},{"g":"cU","i":458.4,"p":4314.1},
{"g":"cL","i":216.1,"p":4211.9},{"g":"cL","i":477.4,"p":4279.1},
{"g":"b1","i":151.1,"p":4135.8},{"g":"b1","i":200.7,"p":4240.0},
{"g":"b2","i":470.4,"p":4279.2},{"g":"b2","i":549.6,"p":4372.9},
{"g":"r","i":489.9,"p":4296.0},{"g":"r","i":553.9,"p":4373.5},
{"g":"hr","i":553.9,"p":4373.5},{"g":"hb","i":549.6,"p":4372.9}
]
},
"layer":[
{"data":{"name":"lv"},
 "mark":{"type":"rule","strokeWidth":1},
 "encoding":{
  "y":{"field":"p","type":"quantitative","scale":{"domain":[4061.3,4384.25],"nice":false,"zero":false},"axis":null},
  "stroke":{"field":"k","type":"nominal","legend":null,"scale":{"domain":["r1","r2","bid","p2","p1","res","l7","l6","l5","piv","l3","l2","l1","sup","m1","m2"],"range":["#FF0000","#FF0000","#C0C0C0","#C71585","#FF00FF","#1E90FF","#FF8C00","#FF4500","#556B2F","#1E90FF","#556B2F","#FF4500","#FF8C00","#1E90FF","#FF00FF","#C71585"]}},
  "strokeDash":{"field":"k","type":"nominal","legend":null,"scale":{"domain":["r1","r2","bid","p2","p1","res","l7","l6","l5","piv","l3","l2","l1","sup","m1","m2"],"range":[[1,0],[1,0],[1,0],[9,3,2,3],[9,3,2,3],[1,0],[9,3,2,3],[9,3,2,3],[9,3,2,3],[12,6],[9,3,2,3],[9,3,2,3],[9,3,2,3],[1,0],[9,3,2,3],[9,3,2,3]]}}
 }},
{"data":{"name":"cd"},
 "mark":{"type":"rule","color":"#000000","strokeWidth":1},
 "encoding":{
  "x":{"field":"i","type":"quantitative","scale":{"domain":[-0.375,937.875],"nice":false,"zero":false},
   "axis":{"orient":"bottom","title":null,"values":[0,16,32,48,64,80,96,112,128,144,160,176,192,208,224,240,256,272,288,304,320,336,352,368,384,400,416,432,448,464,480,496,512,528,544,560,576,592,608,624,640,656,672,688,704,720,736,752,768,784,800,816,832,848,864,880,896,912,928],
    "grid":true,"tickSize":5,"tickColor":{"condition":{"test":"datum.value % 32 === 0","value":"#000000"},"value":"transparent"},
    "labelAlign":"left","labelBaseline":"top","labelPadding":3,"labelOverlap":false,"labelFlush":false,"labelBound":false,
    "labelExpr":"(datum.value % 32 === 0 && datum.value <= 480) ? ['15 Jun 2021','16 Jun 08:30','17 Jun 03:00','17 Jun 19:00','18 Jun 13:30','21 Jun 08:00','22 Jun 02:30','22 Jun 18:30','23 Jun 13:00','24 Jun 07:30','25 Jun 02:00','25 Jun 18:00','28 Jun 12:30','29 Jun 07:00','30 Jun 01:30','30 Jun 17:30'][datum.value / 32] : ''"}},
  "y":{"field":"l","type":"quantitative","scale":{"domain":[4061.3,4384.25],"nice":false,"zero":false},
   "axis":{"orient":"right","title":null,"values":[4067,4078,4089,4100,4111,4122,4133,4144,4155,4166,4177,4188,4199,4210,4221,4232,4243,4254,4265,4276,4287,4298,4309,4320,4331,4342,4353,4364,4375],
    "format":".1f","labelExpr":"(datum.value === 4276 || datum.value === 4287 || datum.value === 4375) ? '' : datum.label",
    "grid":true,"tickSize":5,"tickColor":"#000000","labelAlign":"left","labelBaseline":"middle","labelPadding":3,"labelOverlap":false}},
  "y2":{"field":"h"}
 }},
{"data":{"name":"cd"},
 "mark":{"type":"bar","width":2,"stroke":"#000000","strokeWidth":1},
 "encoding":{
  "x":{"field":"i","type":"quantitative","scale":{"domain":[-0.375,937.875],"nice":false,"zero":false},"axis":null},
  "y":{"field":"o","type":"quantitative","scale":{"domain":[4061.3,4384.25],"nice":false,"zero":false},"axis":null},
  "y2":{"field":"c"},
  "fill":{"condition":{"test":"datum.c >= datum.o","value":"#FFFFFF"},"value":"#000000"}
 }},
{"data":{"name":"sh"},"transform":[{"filter":"datum.g === 'aU' || datum.g === 'aL'"}],
 "mark":{"type":"line","color":"#FFA500","strokeWidth":3.5,"interpolate":"monotone"},
 "encoding":{
  "x":{"field":"i","type":"quantitative","scale":{"domain":[-0.375,937.875],"nice":false,"zero":false},"axis":null},
  "y":{"field":"p","type":"quantitative","scale":{"domain":[4061.3,4384.25],"nice":false,"zero":false},"axis":null},
  "detail":{"field":"g","type":"nominal"}
 }},
{"data":{"name":"sh"},"transform":[{"filter":"datum.g === 'cU' || datum.g === 'cL' || datum.g === 'b1' || datum.g === 'b2' || datum.g === 'r'"}],
 "mark":{"type":"line","color":"#7A7A7A","strokeWidth":8,"opacity":0.3,"strokeCap":"round","xOffset":2,"yOffset":3},
 "encoding":{
  "x":{"field":"i","type":"quantitative","scale":{"domain":[-0.375,937.875],"nice":false,"zero":false},"axis":null},
  "y":{"field":"p","type":"quantitative","scale":{"domain":[4061.3,4384.25],"nice":false,"zero":false},"axis":null},
  "detail":{"field":"g","type":"nominal"}
 }},
{"data":{"name":"sh"},"transform":[{"filter":"datum.g === 'cU' || datum.g === 'cL'"}],
 "mark":{"type":"line","color":"#3C3C3C","strokeWidth":4.5,"strokeCap":"round"},
 "encoding":{
  "x":{"field":"i","type":"quantitative","scale":{"domain":[-0.375,937.875],"nice":false,"zero":false},"axis":null},
  "y":{"field":"p","type":"quantitative","scale":{"domain":[4061.3,4384.25],"nice":false,"zero":false},"axis":null},
  "detail":{"field":"g","type":"nominal"}
 }},
{"data":{"name":"sh"},"transform":[{"filter":"datum.g === 'b1' || datum.g === 'b2'"}],
 "mark":{"type":"line","color":"#5B9BDC","strokeWidth":6.5,"strokeCap":"round"},
 "encoding":{
  "x":{"field":"i","type":"quantitative","scale":{"domain":[-0.375,937.875],"nice":false,"zero":false},"axis":null},
  "y":{"field":"p","type":"quantitative","scale":{"domain":[4061.3,4384.25],"nice":false,"zero":false},"axis":null},
  "detail":{"field":"g","type":"nominal"}
 }},
{"data":{"name":"sh"},"transform":[{"filter":"datum.g === 'r'"}],
 "mark":{"type":"line","color":"#EE3B3B","strokeWidth":5,"strokeCap":"round"},
 "encoding":{
  "x":{"field":"i","type":"quantitative","scale":{"domain":[-0.375,937.875],"nice":false,"zero":false},"axis":null},
  "y":{"field":"p","type":"quantitative","scale":{"domain":[4061.3,4384.25],"nice":false,"zero":false},"axis":null}
 }},
{"data":{"name":"sh"},"transform":[{"filter":"datum.g === 'hr'"}],
 "mark":{"type":"point","shape":"triangle-up","filled":true,"color":"#EE3B3B","size":160,"angle":29,"opacity":1},
 "encoding":{
  "x":{"field":"i","type":"quantitative","scale":{"domain":[-0.375,937.875],"nice":false,"zero":false},"axis":null},
  "y":{"field":"p","type":"quantitative","scale":{"domain":[4061.3,4384.25],"nice":false,"zero":false},"axis":null}
 }},
{"data":{"name":"lv"},"transform":[{"filter":"datum.lab != null"}],
 "mark":{"type":"text","font":"Liberation Sans","fontSize":20,"align":"center","baseline":"alphabetic","dy":19},
 "encoding":{
  "x":{"datum":460.2,"type":"quantitative","scale":{"domain":[-0.375,937.875],"nice":false,"zero":false},"axis":null},
  "y":{"field":"p","type":"quantitative","scale":{"domain":[4061.3,4384.25],"nice":false,"zero":false},"axis":null},
  "text":{"field":"lab","type":"nominal"},
  "color":{"field":"k","type":"nominal","legend":null,"scale":{"domain":["p2","p1","res","l7","l6","l5","piv","l3","l2","l1","sup","m1","m2"],"range":["#C71585","#FF00FF","#1E90FF","#FF8C00","#FF4500","#556B2F","#1E90FF","#556B2F","#FF4500","#FF8C00","#1E90FF","#FF00FF","#C71585"]}}
 }},
{"data":{"name":"lv"},
 "mark":{"type":"tick","orient":"horizontal","size":70,"thickness":22,"opacity":1},
 "encoding":{
  "x":{"datum":946.85,"type":"quantitative","scale":{"domain":[-0.375,937.875],"nice":false,"zero":false},"axis":null},
  "y":{"field":"p","type":"quantitative","scale":{"domain":[4061.3,4384.25],"nice":false,"zero":false},"axis":null},
  "fill":{"field":"k","type":"nominal","legend":null,"scale":{"domain":["bid","r1","r2","p2","p1","res","l7","l6","l5","piv","l3","l2","l1","sup","m1","m2"],"range":["#000000","#FF0000","#FF0000","#C71585","#FF00FF","#1E90FF","#FF8C00","#FF4500","#556B2F","#1E90FF","#556B2F","#FF4500","#FF8C00","#1E90FF","#FF00FF","#C71585"]}},
  "order":{"field":"p","type":"quantitative"}
 }},
{"data":{"name":"lv"},"transform":[{"filter":"datum.k !== 'bid'"}],
 "mark":{"type":"text","font":"DejaVu Sans","fontSize":16,"align":"center","baseline":"middle","color":"#FFFFFF"},
 "encoding":{
  "x":{"datum":946.85,"type":"quantitative","scale":{"domain":[-0.375,937.875],"nice":false,"zero":false},"axis":null},
  "y":{"field":"p","type":"quantitative","scale":{"domain":[4061.3,4384.25],"nice":false,"zero":false},"axis":null},
  "text":{"field":"p","type":"quantitative","format":".1f"}
 }},
{"data":{"name":"lv"},"transform":[{"filter":"datum.k === 'r1' || datum.k === 'r2'"}],
 "mark":{"type":"point","shape":"square","filled":false,"color":"#FF0000","size":30,"strokeWidth":1,"opacity":1},
 "encoding":{
  "x":{"datum":936.9,"type":"quantitative","scale":{"domain":[-0.375,937.875],"nice":false,"zero":false},"axis":null},
  "y":{"field":"p","type":"quantitative","scale":{"domain":[4061.3,4384.25],"nice":false,"zero":false},"axis":null}
 }},
{"data":{"values":[{}]},
 "mark":{"type":"text","font":"Liberation Sans","fontSize":18,"align":"left","baseline":"middle","color":"#000000"},
 "encoding":{
  "x":{"datum":6.75,"type":"quantitative","scale":{"domain":[-0.375,937.875],"nice":false,"zero":false},"axis":null},
  "y":{"datum":4381.3,"type":"quantitative","scale":{"domain":[4061.3,4384.25],"nice":false,"zero":false},"axis":null},
  "text":{"value":"SPX500,M30\u00a0 4295.6 4296.1 4294.9 4295.1"}
 }},
{"data":{"values":[{}]},
 "mark":{"type":"point","shape":"triangle-down","filled":true,"color":"#000000","size":55,"opacity":1},
 "encoding":{
  "x":{"datum":2.2,"type":"quantitative","scale":{"domain":[-0.375,937.875],"nice":false,"zero":false},"axis":null},
  "y":{"datum":4381.3,"type":"quantitative","scale":{"domain":[4061.3,4384.25],"nice":false,"zero":false},"axis":null}
 }}
]
}
